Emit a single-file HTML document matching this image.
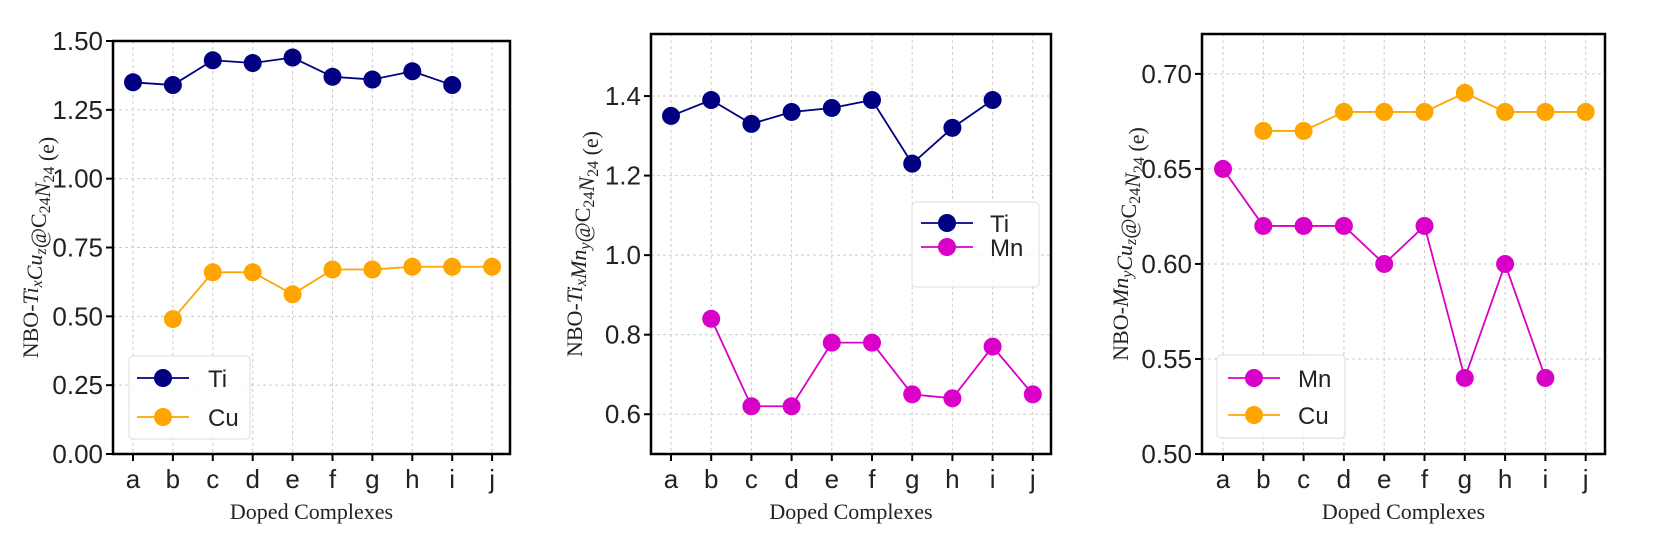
<!DOCTYPE html>
<html><head><meta charset="utf-8"><style>
html,body{margin:0;padding:0;background:#fff;}
svg{display:block;}
.tk{font-family:"Liberation Sans",sans-serif;font-size:26px;fill:#222;}
.sf{font-family:"Liberation Serif",serif;font-size:22px;fill:#222;}
.lg{font-family:"Liberation Sans",sans-serif;font-size:24px;fill:#222;}
</style></head><body>
<svg id="s" width="1668" height="549" xmlns="http://www.w3.org/2000/svg"></svg>
<script>
const S=document.getElementById('s');let h='';
const N='#000080',O='#FFA500',M='#d900c8';
const L='abcdefghij'.split('');
function panel(p){
  const {l,r,t,b,ymin,ymax,ticks,fmt,x0,dx,series,leg,ylab,ylx}=p;
  const Y=v=>b-(v-ymin)/(ymax-ymin)*(b-t);
  for(let i=0;i<10;i++){const x=x0+i*dx;h+=`<line x1="${x}" y1="${t}" x2="${x}" y2="${b}" stroke="#ccc" stroke-width="1" stroke-dasharray="3,3"/>`;
    h+=`<line x1="${x}" y1="${b}" x2="${x}" y2="${b+7}" stroke="#000" stroke-width="2"/>`;
    h+=`<text class="tk" x="${x}" y="${b+34}" text-anchor="middle">${L[i]}</text>`;}
  ticks.forEach(v=>{const y=Y(v);h+=`<line x1="${l}" y1="${y}" x2="${r}" y2="${y}" stroke="#ccc" stroke-width="1" stroke-dasharray="3,3"/>`;
    h+=`<line x1="${l-7}" y1="${y}" x2="${l}" y2="${y}" stroke="#000" stroke-width="2"/>`;
    h+=`<text class="tk" x="${l-10}" y="${y+9}" text-anchor="end">${v.toFixed(fmt)}</text>`;});
  series.forEach(s=>{let pts=[];s.d.forEach((v,i)=>{if(v!=null)pts.push([x0+i*dx,Y(v)]);});
    h+=`<polyline points="${pts.map(q=>q.join(',')).join(' ')}" fill="none" stroke="${s.c}" stroke-width="1.8"/>`;
    pts.forEach(q=>h+=`<circle cx="${q[0]}" cy="${q[1]}" r="9" fill="${s.c}"/>`);});
  h+=`<rect x="${l}" y="${t}" width="${r-l}" height="${b-t}" fill="none" stroke="#000" stroke-width="2.5"/>`;
  h+=`<rect x="${leg.x}" y="${leg.y}" width="${leg.w}" height="${leg.h}" rx="4" fill="#fff" fill-opacity="0.85" stroke="#ddd"/>`;
  leg.items.forEach((it,i)=>{const y=leg.y1+i*leg.dy;
    h+=`<line x1="${leg.mx-26}" y1="${y}" x2="${leg.mx+26}" y2="${y}" stroke="${it.c}" stroke-width="1.8"/><circle cx="${leg.mx}" cy="${y}" r="9" fill="${it.c}"/>`;
    h+=`<text class="lg" x="${leg.tx}" y="${y+9}">${it.n}</text>`;});
  h+=`<text class="sf" x="${(l+r)/2}" y="519" text-anchor="middle">Doped Complexes</text>`;
  h+=`<text class="sf" transform="translate(${ylx},${(t+b)/2}) rotate(-90)" text-anchor="middle">${ylab}</text>`;
}
const sub=t=>`<tspan font-size="16" dy="4">${t}</tspan><tspan dy="-4"></tspan>`;
const it=t=>`<tspan font-style="italic">${t}</tspan>`;
panel({l:113,r:510,t:41,b:454,ymin:0,ymax:1.5,ticks:[0,0.25,0.5,0.75,1,1.25,1.5],fmt:2,x0:133,dx:39.9,
 series:[{c:N,d:[1.35,1.34,1.43,1.42,1.44,1.37,1.36,1.39,1.34,null]},{c:O,d:[null,0.49,0.66,0.66,0.58,0.67,0.67,0.68,0.68,0.68]}],
 leg:{x:129,y:356,w:121,h:83,y1:378,dy:39,mx:163,tx:208,items:[{c:N,n:'Ti'},{c:O,n:'Cu'}]},
 ylab:`NBO-${it('Ti')}${sub(it('x'))}${it('Cu')}${sub(it('z'))}@C${sub('24')}${it('N')}${sub('24')} (e)`,ylx:38});
panel({l:651,r:1051,t:34,b:454,ymin:0.5,ymax:1.556,ticks:[0.6,0.8,1.0,1.2,1.4],fmt:1,x0:671,dx:40.2,
 series:[{c:N,d:[1.35,1.39,1.33,1.36,1.37,1.39,1.23,1.32,1.39,null]},{c:M,d:[null,0.84,0.62,0.62,0.78,0.78,0.65,0.64,0.77,0.65]}],
 leg:{x:912,y:202,w:127,h:85,y1:223,dy:24,mx:947,tx:990,items:[{c:N,n:'Ti'},{c:M,n:'Mn'}]},
 ylab:`NBO-${it('Ti')}${sub(it('x'))}${it('Mn')}${sub(it('y'))}@C${sub('24')}${it('N')}${sub('24')} (e)`,ylx:582});
panel({l:1202,r:1605,t:34,b:454,ymin:0.5,ymax:0.721,ticks:[0.5,0.55,0.6,0.65,0.7],fmt:2,x0:1223,dx:40.3,
 series:[{c:M,d:[0.65,0.62,0.62,0.62,0.60,0.62,0.54,0.60,0.54,null]},{c:O,d:[null,0.67,0.67,0.68,0.68,0.68,0.69,0.68,0.68,0.68]}],
 leg:{x:1217,y:355,w:128,h:83,y1:378,dy:37,mx:1254,tx:1298,items:[{c:M,n:'Mn'},{c:O,n:'Cu'}]},
 ylab:`NBO-${it('Mn')}${sub(it('y'))}${it('Cu')}${sub(it('z'))}@C${sub('24')}${it('N')}${sub('24')} (e)`,ylx:1128});
S.innerHTML=h;
</script>
</body></html>
